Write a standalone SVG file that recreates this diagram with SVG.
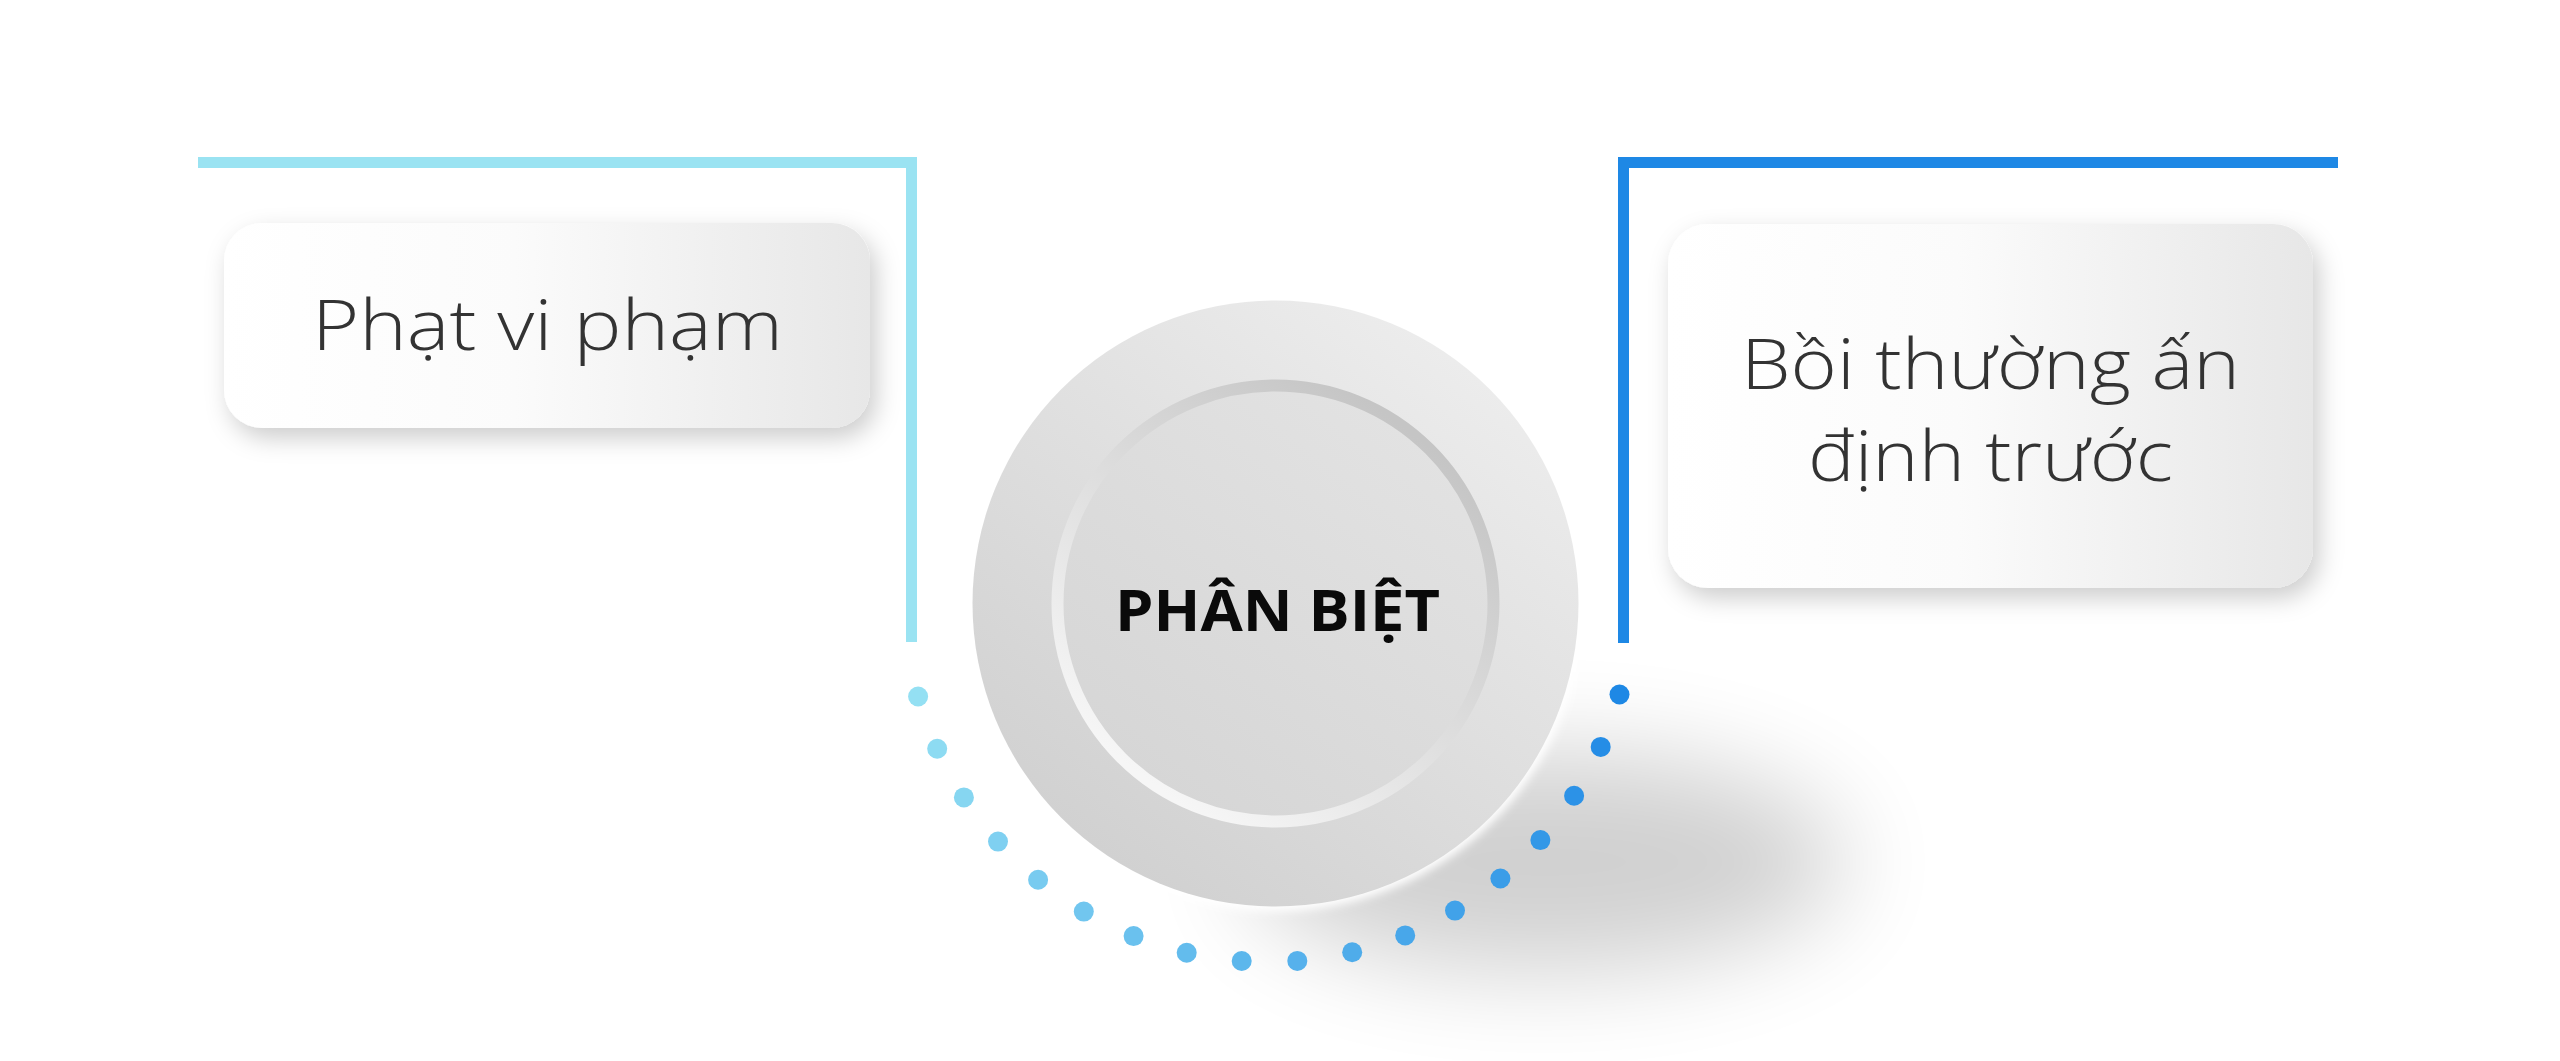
<svg xmlns="http://www.w3.org/2000/svg" width="2560" height="1061" viewBox="0 0 2560 1061">
<style>
.lbl{font-family:"Open Sans","Noto Sans","Liberation Sans",sans-serif;font-weight:300;font-size:70px;fill:#333333}
.ttl{font-family:"Open Sans","Noto Sans","Liberation Sans",sans-serif;font-weight:700;font-size:57px;fill:#0a0a0a}
.ln{fill:none;stroke-width:11;stroke-linejoin:miter;stroke-linecap:butt}
.card{fill:url(#cardGrad);filter:url(#cardShadow)}
</style>
<defs>
<linearGradient id="cardGrad" x1="0" y1="0" x2="1" y2="0">
<stop offset="0" stop-color="#ffffff"/>
<stop offset="0.45" stop-color="#fbfbfb"/>
<stop offset="1" stop-color="#e7e7e7"/>
</linearGradient>
<filter id="cardShadow" x="-20%" y="-20%" width="140%" height="150%">
<feDropShadow dx="6" dy="10" stdDeviation="12" flood-color="#000" flood-opacity="0.2"/>
</filter>
<linearGradient id="discGrad" x1="0.8" y1="0.1" x2="0.2" y2="0.9">
<stop offset="0" stop-color="#ececec"/>
<stop offset="1" stop-color="#d1d1d1"/>
</linearGradient>
<linearGradient id="ringGrad" x1="0.8" y1="0.1" x2="0.2" y2="0.9">
<stop offset="0" stop-color="#c5c5c5"/>
<stop offset="1" stop-color="#f6f6f6"/>
</linearGradient>
<linearGradient id="innerGrad" x1="0.8" y1="0.1" x2="0.2" y2="0.9">
<stop offset="0" stop-color="#e2e2e2"/>
<stop offset="1" stop-color="#d6d6d6"/>
</linearGradient>
<filter id="blurBig" x="-60%" y="-100%" width="220%" height="300%">
<feGaussianBlur stdDeviation="50"/>
</filter>
<filter id="blurSmall" x="-10%" y="-10%" width="120%" height="120%">
<feGaussianBlur stdDeviation="5"/>
</filter>
</defs>
<rect width="2560" height="1061" fill="#ffffff"/>

<g id="connectors">
<path class="ln" stroke="#9ae3f2" d="M198 162.5 H911.5 V642"/>
<path class="ln" stroke="#1e88e5" d="M2338 162.5 H1623.5 V643"/>
</g>

<g id="node-phat-vi-pham">
<rect class="card" x="224" y="223" width="646" height="205" rx="38"/>
<text class="lbl" x="312" y="350" textLength="471" lengthAdjust="spacingAndGlyphs">Phạt vi phạm</text>
</g>

<g id="node-boi-thuong">
<rect class="card" x="1668" y="224" width="645" height="364" rx="40"/>
<text class="lbl" x="1741" y="389" textLength="499" lengthAdjust="spacingAndGlyphs">Bồi thường ấn</text>
<text class="lbl" x="1808" y="481" textLength="365" lengthAdjust="spacingAndGlyphs">định trước</text>
</g>

<g id="node-phan-biet">
<ellipse cx="1545" cy="862" rx="300" ry="110" fill="#000" opacity="0.18" filter="url(#blurBig)"/>
<circle cx="1275.5" cy="603.5" r="308" fill="#ffffff" filter="url(#blurSmall)"/>
<circle cx="1275.5" cy="603.5" r="303" fill="url(#discGrad)"/>
<circle cx="1275.5" cy="603.5" r="218" fill="url(#innerGrad)" stroke="url(#ringGrad)" stroke-width="12"/>
<text class="ttl" x="1115" y="631" textLength="325" lengthAdjust="spacingAndGlyphs">PHÂN BIỆT</text>
</g>

<g id="dots">
<circle cx="918.1" cy="696.5" r="10" fill="#94e0f3"/>
<circle cx="937.2" cy="748.7" r="10" fill="#8ddbf2"/>
<circle cx="963.9" cy="797.4" r="10" fill="#86d6f1"/>
<circle cx="998.0" cy="841.6" r="10" fill="#7fd0f1"/>
<circle cx="1038.1" cy="879.8" r="10" fill="#78cbf0"/>
<circle cx="1083.8" cy="911.6" r="10" fill="#71c6ef"/>
<circle cx="1133.6" cy="936.1" r="10" fill="#6ac1ee"/>
<circle cx="1186.7" cy="952.7" r="10" fill="#63bced"/>
<circle cx="1241.7" cy="961.0" r="10" fill="#5cb7ec"/>
<circle cx="1297.3" cy="960.9" r="10" fill="#56b1ec"/>
<circle cx="1352.2" cy="952.2" r="10" fill="#4facea"/>
<circle cx="1405.2" cy="935.4" r="10" fill="#48a7ea"/>
<circle cx="1455.0" cy="910.6" r="10" fill="#41a2e9"/>
<circle cx="1500.4" cy="878.5" r="10" fill="#3a9de8"/>
<circle cx="1540.4" cy="840.1" r="10" fill="#3398e7"/>
<circle cx="1574.1" cy="795.7" r="10" fill="#2c92e7"/>
<circle cx="1600.7" cy="746.9" r="10" fill="#258de6"/>
<circle cx="1619.5" cy="694.5" r="10" fill="#1e88e5"/>
</g>
</svg>
